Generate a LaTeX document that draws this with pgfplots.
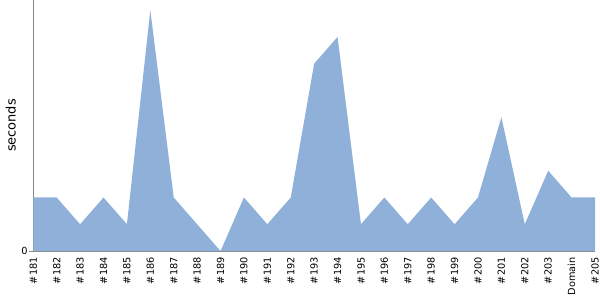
\documentclass[border=0pt]{standalone}
\usepackage{pgfplots}
\pgfplotsset{compat=1.18}
\usepackage{fontspec}
\setmainfont{DejaVu Sans}
\definecolor{areac}{RGB}{143,177,217}
\definecolor{axl}{RGB}{136,136,136}
\begin{document}
\begin{tikzpicture}
\begin{axis}[
  scale only axis, width=561.7bp, height=251bp,
  xmin=0, xmax=24, ymin=0, ymax=9.38,
  axis x line*=bottom, axis y line*=left,
  axis line style={-, draw=axl, line width=0.8bp},
  xtick={0,...,24},
  xticklabels={\#181,\#182,\#183,\#184,\#185,\#186,\#187,\#188,\#189,\#190,\#191,\#192,\#193,\#194,\#195,\#196,\#197,\#198,\#199,\#200,\#201,\#202,\#203,Domain,\#205},
  x tick label style={rotate=90, anchor=east, font=\fontsize{9.8}{11}\selectfont, inner sep=2bp},
  x tick style={draw=none},
  ytick={0},
  y tick label style={font=\fontsize{9.8}{11}\selectfont, inner sep=1.5bp},
  y tick style={draw=axl, line width=0.8bp},
  tick align=outside, major tick length=4bp,
  /pgf/number format/assume math mode=true,
  ylabel={seconds},
  every axis y label/.style={at={(axis description cs:0,0.5)}, xshift=-22.5bp, rotate=90, anchor=center, font=\fontsize{13}{15}\selectfont},
]
\addplot[fill=areac, draw=none] coordinates {
(0,2) (1,2) (2,1) (3,2) (4,1) (5,9) (6,2) (7,1) (8,0) (9,2) (10,1) (11,2) (12,7) (13,8) (14,1) (15,2) (16,1) (17,2) (18,1) (19,2) (20,5) (21,1) (22,3) (23,2) (24,2)
} \closedcycle;
\coordinate (bl) at (rel axis cs:0,0);
\coordinate (tr) at (rel axis cs:1,1);
\end{axis}
\pgfresetboundingbox
\path ([xshift=-33.3bp,yshift=-49bp]bl) rectangle ([xshift=5bp]tr);
\end{tikzpicture}
\end{document}
